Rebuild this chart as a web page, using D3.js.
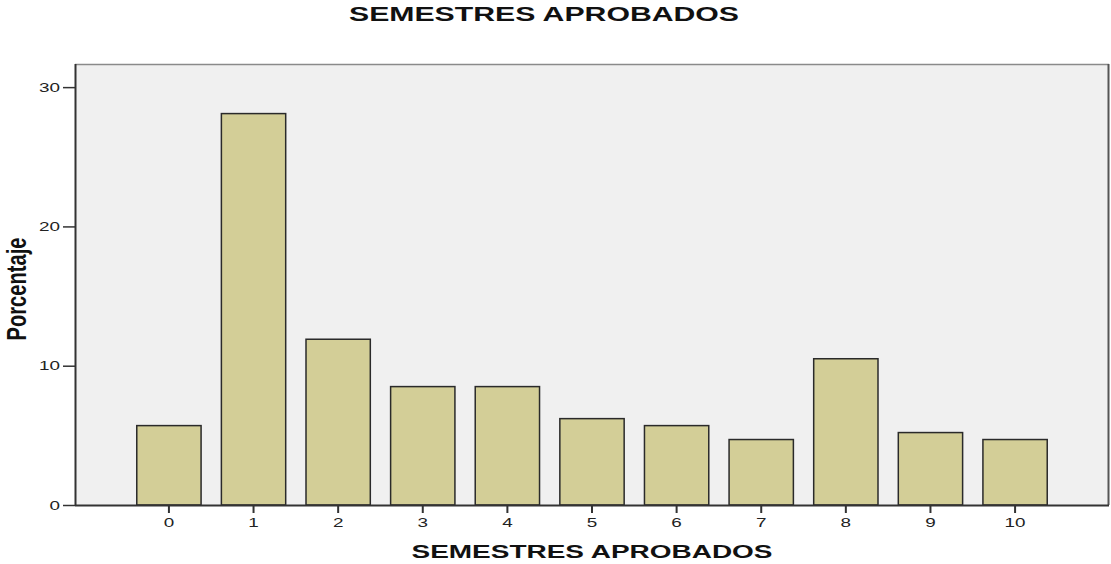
<!DOCTYPE html>
<html>
<head>
<meta charset="utf-8">
<script src="https://cdn.jsdelivr.net/npm/d3@7"></script>
<style>
  html, body { margin: 0; padding: 0; background: #fff; }
  svg { display: block; }
  text { font-family: "Liberation Sans", Arial, sans-serif; }
</style>
</head>
<body>
<svg id="chart" width="1111" height="564"></svg>
<script>
const categories = ["0", "1", "2", "3", "4", "5", "6", "7", "8", "9", "10"];
const percentages = [5.7, 28.1, 11.9, 8.5, 8.5, 6.2, 5.7, 4.7, 10.5, 5.2, 4.7];
const yTicks = [0, 10, 20, 30];
const chartTitle = "SEMESTRES APROBADOS";
const xTitle = "SEMESTRES APROBADOS";
const yTitle = "Porcentaje";

const W = 1111, H = 564;
const m = { left: 75, right: 2, top: 64, bottom: 59 };
const svg = d3.select("#chart");

const x = d3.scaleBand()
  .domain(categories)
  .range([m.left, W - m.right])
  .paddingInner(0.24)
  .paddingOuter(0.73);

const y = d3.scaleLinear()
  .domain([0, 31.66])
  .range([H - m.bottom, m.top]);

// plot background
svg.append("rect")
  .attr("x", m.left).attr("y", m.top)
  .attr("width", W - m.right - m.left)
  .attr("height", H - m.bottom - m.top)
  .attr("fill", "#f0f0f0");

// frame top and right
svg.append("line")
  .attr("x1", m.left).attr("x2", W - m.right)
  .attr("y1", m.top + 0.5).attr("y2", m.top + 0.5)
  .attr("stroke", "#8a8a8a").attr("stroke-width", 1.5);
svg.append("line")
  .attr("x1", W - m.right - 0.5).attr("x2", W - m.right - 0.5)
  .attr("y1", m.top).attr("y2", H - m.bottom)
  .attr("stroke", "#555").attr("stroke-width", 2);

// bars
svg.append("g").selectAll("rect")
  .data(categories.map((c, i) => ({ c, v: percentages[i] })))
  .join("rect")
  .attr("x", d => x(d.c))
  .attr("y", d => y(d.v))
  .attr("width", x.bandwidth())
  .attr("height", d => y(0) - y(d.v))
  .attr("fill", "#d3ce97")
  .attr("stroke", "#2a2a2a")
  .attr("stroke-width", 1.5);

// y axis
const yAxis = svg.append("g")
  .attr("transform", `translate(${m.left},0)`)
  .call(d3.axisLeft(y).tickValues(yTicks).tickSize(12).tickPadding(3).tickSizeOuter(0));
yAxis.select(".domain").attr("stroke", "#333").attr("stroke-width", 2)
  .attr("d", `M0.5,${m.top}V${H - m.bottom}`);
yAxis.selectAll(".tick line").attr("stroke", "#333").attr("stroke-width", 1.5);
yAxis.selectAll(".tick text")
  .attr("fill", "#222")
  .style("font-size", "13px")
  .attr("textLength", d => String(d).length * 10.5)
  .attr("lengthAdjust", "spacingAndGlyphs");

// x axis
const xAxis = svg.append("g")
  .attr("transform", `translate(0,${H - m.bottom})`)
  .call(d3.axisBottom(x).tickSize(8).tickPadding(5).tickSizeOuter(0));
xAxis.select(".domain").attr("stroke", "#333").attr("stroke-width", 2)
  .attr("d", `M${m.left},0.5H${W - m.right}`);
xAxis.selectAll(".tick line").attr("stroke", "#333").attr("stroke-width", 2);
xAxis.selectAll(".tick text")
  .attr("fill", "#222")
  .style("font-size", "13px")
  .attr("textLength", d => String(d).length * 10.5)
  .attr("lengthAdjust", "spacingAndGlyphs");

// title
svg.append("text")
  .attr("x", 544).attr("y", 21)
  .attr("text-anchor", "middle")
  .style("font-size", "20px").style("font-weight", "bold")
  .attr("fill", "#111")
  .attr("textLength", 390).attr("lengthAdjust", "spacingAndGlyphs")
  .text(chartTitle);

// x title
svg.append("text")
  .attr("x", (m.left + W - m.right) / 2).attr("y", 558)
  .attr("text-anchor", "middle")
  .style("font-size", "19px").style("font-weight", "bold")
  .attr("fill", "#111")
  .attr("textLength", 361).attr("lengthAdjust", "spacingAndGlyphs")
  .text(xTitle);

// y title
svg.append("text")
  .attr("transform", `translate(26,289) scale(1.35,1) rotate(-90)`)
  .attr("text-anchor", "middle")
  .style("font-size", "20px").style("font-weight", "bold")
  .attr("fill", "#111")
  .attr("textLength", 103).attr("lengthAdjust", "spacingAndGlyphs")
  .text(yTitle);
</script>
</body>
</html>
